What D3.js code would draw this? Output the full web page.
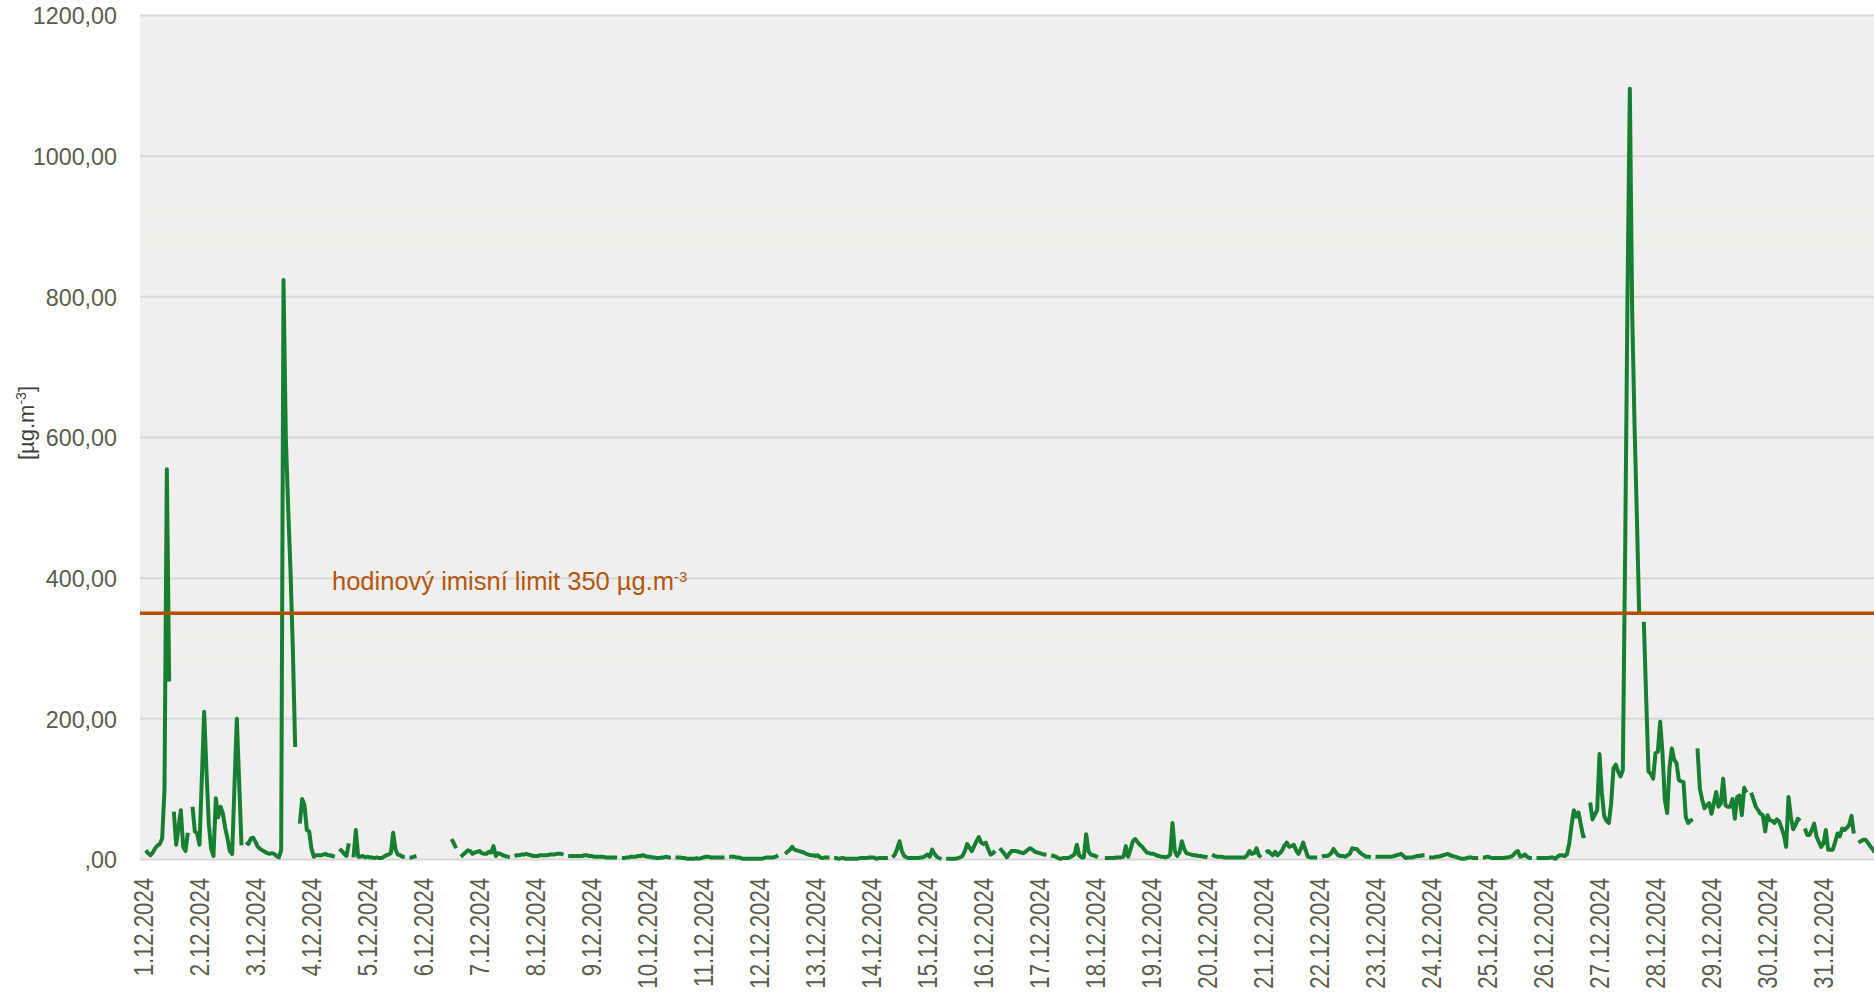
<!DOCTYPE html>
<html>
<head>
<meta charset="utf-8">
<script src="https://cdn.jsdelivr.net/npm/d3@7"></script>
<style>
  html, body { margin: 0; background: #fff; }
  svg { display: block; font-family: "Liberation Sans", Arial, sans-serif; }
</style>
</head>
<body>
<svg id="chart" width="1874" height="998"></svg>
<script>
// Hourly concentrations, one array per day of December 2024 (null = missing hour)
const d01 = [null, null, 13, 9, 6, 10, 16, 20, 22, 30, 100, 555, 253, null, 68, 21, 45, 70, 18, 12, 38, null, 75, 40];
const d02 = [37, 21, 115, 210, 125, 50, 15, 5, 87, 60, 75, 66, 45, 30, 12, 8, 105, 200, 110, 20, null, 25, 22, 30];
const d03 = [31, 25, 18, 15, 13, 11, 9, 8, 9, 8, 5, 3, 13, 824, 600, 500, 410, 300, 160, null, 51, 86, 77, 42];
const d04 = [40, 15, 4, 6, 6, 6, 7, 8, 6, 6, 5, 4, null, 15, 12, 8, 5, 23, null, 3, 42, 4, 4, 5];
const d05 = [3, 4, 3, 3, 2, 3, 2, 2, 4, 6, 7, 9, 38, 14, 7, 6, 4, 4, null, 3, 3, 4, 5, null];
const d06 = [null, null, null, null, null, null, null, null, null, null, null, null, null, 29, 23, 16, null, 4, 7, 10, 13, 12, 8, 10];
const d07 = [11, 12, 9, 8, 8, 11, 10, 19, 5, 9, 8, 6, 5, 4, 3, null, 5, 6, 6, 7, 7, 8, 7, 6];
const d08 = [5, 5, 5, 6, 6, 6, 6, 7, 7, 7, 8, 8, 8, 7, null, 5, 5, 5, 5, 5, 5, 5, 6, 6];
const d09 = [5, 5, 4, 4, 4, 4, 4, 3, 3, 3, 3, 3, 3, null, 2, 2, 3, 3, 4, 4, 4, 5, 5, 6];
const d10 = [5, 4, 4, 3, 3, 2, 2, 3, 3, 4, 3, 3, null, 3, 3, 3, 2, 2, 1, 1, 1, 1, 2, 1];
const d11 = [2, 3, 4, 4, 3, 3, 3, 3, 3, 3, 3, null, 4, 4, 4, 3, 3, 2, 1, 1, 1, 1, 1, 1];
const d12 = [1, 1, 1, 2, 3, 3, 3, 3, 4, 6, null, null, 8, 11, 14, 18, 14, 13, 12, 11, 10, 8, 7, 6];
const d13 = [6, 5, 6, 3, 2, 3, 3, 3, null, 2, 2, 1, 2, 2, 1, 1, 1, 1, 1, 1, 2, 2, 2, 2];
const d14 = [3, 3, 3, 1, 2, 2, 2, 2, 2, null, 3, 7, 15, 26, 12, 5, 3, 2, 2, 2, 2, 2, 3, 3];
const d15 = [5, 7, 4, 14, 8, 4, 2, 1, null, 1, 1, 1, 1, 1, 2, 3, 5, 12, 22, 17, 12, 19, 26, 32];
const d16 = [24, 22, 24, 15, 7, 9, 12, null, 16, 12, 8, 3, 8, 12, 12, 12, 11, 10, 9, 11, 14, 16, 14, 11];
const d17 = [10, 9, 8, 7, 7, null, 6, 5, 4, 2, 1, 2, 2, 2, 3, 5, 7, 21, 6, 3, 3, 36, 12, 7];
const d18 = [6, 5, 3, null, null, 2, 2, 2, 2, 2, 3, 3, 3, 4, 19, 4, 14, 26, 29, 25, 21, 18, 14, 10];
const d19 = [9, 8, 8, 6, 5, 4, 4, 3, 4, 7, 52, 12, 5, 10, 26, 15, 9, 8, 7, 6, 6, 5, 5, 4];
const d20 = [4, 3, null, 7, 5, 4, 4, 4, 3, 3, 3, 3, 3, 3, 3, 3, 3, 3, 6, 12, 8, 9, 16, 6];
const d21 = [3, null, 10, 12, 9, 6, 11, 6, 9, 13, 20, 24, 18, 19, 21, 13, 8, 15, 24, 14, 4, 3, 3, 3];
const d22 = [3, null, 4, 5, 5, 6, 9, 15, 10, 6, 5, 5, 4, 6, 8, 16, 15, 15, 11, 8, 6, 4, 4, 3];
const d23 = [null, 4, 4, 4, 4, 4, 4, 4, 4, 5, 6, 7, 8, 5, 2, 3, 3, 3, 4, 5, 5, 6, 6, null];
const d24 = [3, 3, 3, 4, 4, 5, 6, 7, 8, 6, 5, 4, 3, 2, 1, 1, 2, 3, 3, 2, 2, 2, null, 3];
const d25 = [3, 4, 3, 2, 2, 2, 2, 2, 2, 3, 3, 4, 6, 10, 12, 4, 5, 7, 4, 2, 2, null, 2, 2];
const d26 = [2, 2, 2, 2, 3, 3, 1, 4, 6, 6, 5, 7, 22, 48, 70, 61, 67, 50, 33, 34, null, 81, 57, 64];
const d27 = [70, 150, 95, 62, 55, 52, 80, 130, 135, 125, 118, 127, 440, 800, 1096, 780, 620, 490, 350, null, 338, 230, 125, 122];
const d28 = [115, 151, 153, 196, 151, 85, 66, 130, 158, 142, 137, 113, 111, 110, 60, 52, 55, 57, null, 158, 101, 85, 73, 77];
const d29 = [80, 65, 80, 96, 75, 80, 115, 77, 75, 75, 86, 58, 89, 91, 63, 102, 95, null, 95, 85, 75, 70, 65, 63];
const d30 = [40, 63, 56, 55, 52, 57, 54, 45, 35, 18, 89, 61, 43, 49, 58, 55, null, 44, 35, 35, 42, 51, 33, 25];
const d31 = [18, 23, 42, 14, 14, 14, 25, 37, 33, 44, 42, 45, 49, 62, 37, null, 24, 26, 28, 28, 24, 19, 15, 10];

// Axis labels and limit
const dayLabels = d3.range(1, 32).map((d) => `${d}.12.2024`);
const yTicks = [0, 200, 400, 600, 800, 1000, 1200];
const yMinorTicks = d3.range(0, 1201, 40);
const limitValue = 350;
const limitText = "hodinový imisní limit 350 µg.m";
const unitText = "[µg.m";

const values = [d01, d02, d03, d04, d05, d06, d07, d08, d09, d10, d11, d12, d13, d14, d15, d16,
  d17, d18, d19, d20, d21, d22, d23, d24, d25, d26, d27, d28, d29, d30, d31].flat();
const hours = values.map((v, i) => i);

// Canvas and plot box
const svg = d3.select("#chart");
const [pl, pt, pr, pb] = [140, 15.5, 1876, 859.5];
const textClr = "#5a5d4c";

const x = d3.scaleBand().domain(hours).range([pl, pr]);
const y = d3.scaleLinear().domain([0, 1200]).range([pb, pt]);
const xc = (i) => x(i) + x.bandwidth() / 2;

// Plot background
svg.append("rect")
  .attr("x", pl).attr("y", pt)
  .attr("width", pr - pl).attr("height", pb - pt)
  .attr("fill", "#f0efed");

// Faint minor gridlines
svg.append("g")
  .selectAll("line")
  .data(yMinorTicks.filter((v) => v % 200 !== 0))
  .join("line")
  .attr("x1", pl).attr("x2", pr)
  .attr("y1", (d) => y(d)).attr("y2", (d) => y(d))
  .attr("stroke", "#f2f1ef")
  .attr("stroke-width", 1.5);

// Major gridlines
svg.append("g")
  .selectAll("line")
  .data(yTicks)
  .join("line")
  .attr("x1", pl).attr("x2", pr)
  .attr("y1", (d) => y(d)).attr("y2", (d) => y(d))
  .attr("stroke", "#d9d8d6")
  .attr("stroke-width", 2);

// Y axis labels
const fmtY = (v) => (v === 0 ? ",00" : v.toFixed(2).replace(".", ","));
const yAxis = svg.append("g")
  .attr("transform", `translate(117,0)`)
  .call(d3.axisLeft(y).tickValues(yTicks).tickFormat(fmtY).tickSize(0).tickPadding(0));
yAxis.select(".domain").remove();
yAxis.selectAll("text")
  .attr("fill", textClr)
  .attr("font-size", 23.3)
  .attr("font-family", '"Liberation Sans", Arial, sans-serif')
  .attr("dy", "0.36em");

// X axis labels (one per day)
const xAxis = svg.append("g")
  .attr("transform", `translate(0,878)`)
  .call(d3.axisBottom(x)
    .tickValues(hours.filter((h) => h % 24 === 0))
    .tickFormat((h) => dayLabels[h / 24])
    .tickSize(0));
xAxis.select(".domain").remove();
xAxis.selectAll("text")
  .attr("fill", textClr)
  .attr("font-size", 28)
  .attr("font-family", '"Liberation Sans", Arial, sans-serif')
  .attr("text-anchor", "end")
  .attr("x", 0).attr("y", 0)
  .attr("dy", "0.44em")
  .attr("transform", "rotate(-90) scale(0.79,1)");

// Y axis title
const unit = svg.append("text")
  .attr("transform", "translate(27,423) rotate(-90)")
  .attr("text-anchor", "middle")
  .attr("dy", "0.3em")
  .attr("fill", "#3f3f3f")
  .attr("font-size", 22)
  .text(unitText);
unit.append("tspan").attr("baseline-shift", "super").attr("font-size", 14).text("-3");
unit.append("tspan").text("]");

// Measured series
const line = d3.line()
  .defined((d) => d != null)
  .x((d, i) => xc(i))
  .y((d) => y(d));

svg.append("path")
  .datum(values)
  .attr("d", line)
  .attr("fill", "none")
  .attr("stroke", "#177f31")
  .attr("stroke-width", 4)
  .attr("stroke-linejoin", "round")
  .attr("stroke-linecap", "butt");

// Hourly limit
svg.append("line")
  .attr("x1", pl).attr("x2", pr)
  .attr("y1", y(limitValue)).attr("y2", y(limitValue))
  .attr("stroke", "#b04f00")
  .attr("stroke-width", 3.5);

const lim = svg.append("text")
  .attr("x", 332).attr("y", 590)
  .attr("fill", "#b3560e")
  .attr("font-size", 25.5)
  .text(limitText);
lim.append("tspan").attr("baseline-shift", "super").attr("font-size", 15).text("-3");
</script>
</body>
</html>
